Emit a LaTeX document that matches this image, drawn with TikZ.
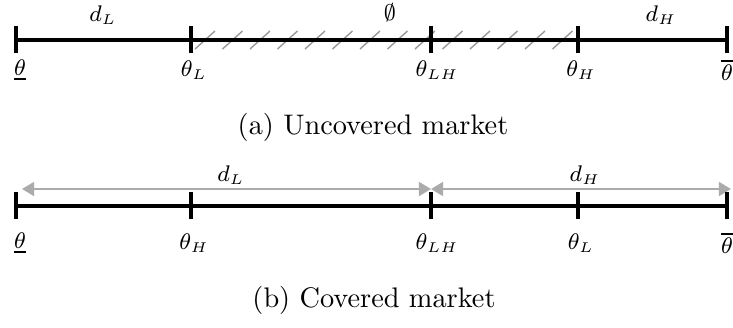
\documentclass[tikz,border=0pt]{standalone}
\usetikzlibrary{arrows.meta,calc}

\newcommand{\sub}[1]{_{\scriptscriptstyle #1}}

\begin{document}
\begin{tikzpicture}[
  x=0.3534pt, y=-0.3534pt,
  axis/.style={line width=1.1pt, draw=black},
  label/.style={font=\footnotesize, inner sep=0pt},
  caption/.style={font=\normalsize, inner sep=0pt},
  hatch/.style={line width=0.5pt, draw=black!40},
  span/.style={{Triangle[length=4.3pt,width=5pt]}-{Triangle[length=4.3pt,width=5pt]},
    line width=0.6pt, draw=black!33},
]
\useasboundingbox (0,0) rectangle (733,327);

% (a) Uncovered market
\foreach \n/\x in {a0/16,a1/191,a2/431,a3/578,a4/727} {
  \coordinate (\n) at (\x,40);
}
\foreach \k in {0,...,13} {
  \draw[hatch] (195+27.5*\k,49) -- ++(20,-18);
}
\draw[axis] (a0) -- (a4);
\foreach \n in {a0,a1,a2,a3,a4} {
  \draw[axis] (\n) ++(0,-14) -- ++(0,27);
}
\node[label] (dLa) at (103,15) {$d\sub{L}$};
\node[label] (none) at (390,13) {$\emptyset$};
\node[label] (dHa) at (661,15) {$d\sub{H}$};
\node[label] (lowa) at (20,70) {$\underline{\theta}$};
\node[label] (tLa) at (194,70) {$\theta\sub{L}$};
\node[label] (tLHa) at (437,70) {$\theta\sub{LH}$};
\node[label] (tHa) at (581,70) {$\theta\sub{H}$};
\node[label] (higha) at (727,70) {$\overline{\theta}$};
\node[caption] (capa) at (373,127) {(a) Uncovered market};

% (b) Covered market
\foreach \n/\x in {b0/16,b1/191,b2/431,b3/578,b4/727} {
  \coordinate (\n) at (\x,206);
}
\coordinate (sL) at (22,189);
\coordinate (sM) at (431,189);
\coordinate (sR) at (731,189);
\draw[span] (sL) -- (sM);
\draw[span] (sM) -- (sR);
\draw[axis] (b0) -- (b4);
\foreach \n in {b0,b1,b2,b3,b4} {
  \draw[axis] (\n) ++(0,-14) -- ++(0,27);
}
\node[label] (dLb) at (231,175) {$d\sub{L}$};
\node[label] (dHb) at (585,175) {$d\sub{H}$};
\node[label] (lowb) at (20,243) {$\underline{\theta}$};
\node[label] (tHb) at (194,243) {$\theta\sub{H}$};
\node[label] (tLHb) at (437,243) {$\theta\sub{LH}$};
\node[label] (tLb) at (581,243) {$\theta\sub{L}$};
\node[label] (highb) at (727,243) {$\overline{\theta}$};
\node[caption] (capb) at (374,300) {(b) Covered market};

\end{tikzpicture}
\end{document}
